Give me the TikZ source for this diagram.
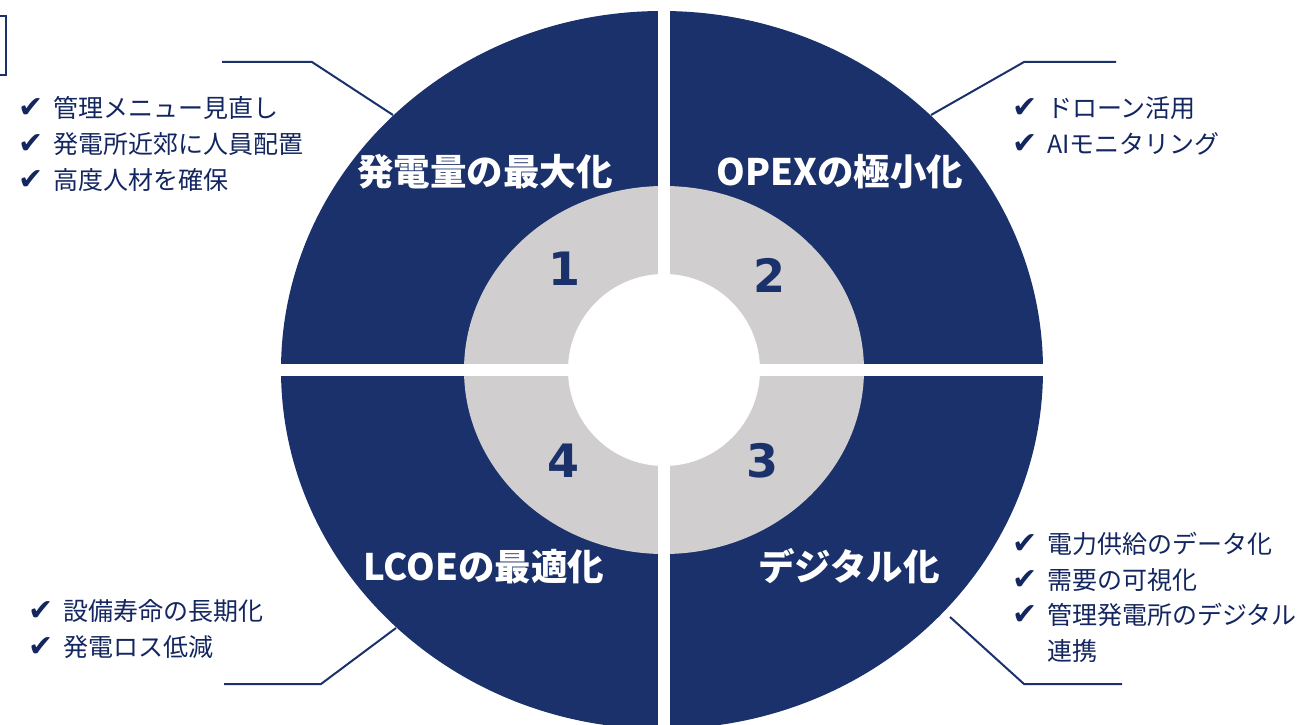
\documentclass[tikz,border=0pt]{standalone}
\usepackage{fontspec}
\setmainfont{Noto Sans CJK JP}
\newfontfamily\symfont{DejaVu Sans}
\definecolor{navy}{RGB}{27,49,107}
\definecolor{ringgray}{RGB}{208,206,207}
\definecolor{txtnavy}{RGB}{20,38,96}
\newcommand{\chk}{\makebox[35pt][l]{\symfont\fontsize{30}{30}\selectfont ✔}}
\begin{document}
\begin{tikzpicture}[x=1pt,y=-1pt,
  titlelbl/.style={text=white,font=\fontsize{36.5}{40}\selectfont\bfseries,anchor=base,inner sep=0pt},
  numlbl/.style={text=navy,font=\symfont\fontsize{46}{50}\selectfont\bfseries,anchor=base,inner sep=0pt},
  itemlbl/.style={text=txtnavy,font=\fontsize{25}{30}\selectfont,anchor=base west,inner sep=0pt},
  leader/.style={draw=navy,line width=2pt}]
\useasboundingbox (0,0) rectangle (1314,725);
\clip (0,0) rectangle (1314,725);
% rings
\coordinate (co) at (662,370);
\coordinate (ci) at (664,370);
\fill[navy] (co) ellipse [x radius=381pt, y radius=359pt];
\fill[ringgray] (ci) ellipse [x radius=200pt, y radius=184pt];
\fill[white] (ci) circle [radius=96pt];
\fill[white] (657.5,-10) rectangle (669.5,740);
\fill[white] (260,364) rectangle (1060,376);
% box fragment
\draw[navy,line width=2pt] (-20,16) rectangle (6,75);
% titles
\node[titlelbl] (t1) at (485,185.5) {発電量の最大化};
\node[titlelbl] (t2) at (840,185.5) {OPEXの極小化};
\node[titlelbl] (t4) at (484,580.5) {LCOEの最適化};
\node[titlelbl] (t3) at (849,580.5) {デジタル化};
% numbers
\node[numlbl] (n1) at (564,285) {1};
\node[numlbl] (n2) at (769,292) {2};
\node[numlbl] (n3) at (762,477) {3};
\node[numlbl] (n4) at (563,477) {4};
% leader lines
\coordinate (tlA) at (393,115); \coordinate (tlB) at (312,62); \coordinate (tlC) at (222,62);
\coordinate (trA) at (931,115); \coordinate (trB) at (1024,62); \coordinate (trC) at (1116,62);
\coordinate (blA) at (396,628); \coordinate (blB) at (321,684); \coordinate (blC) at (224,684);
\coordinate (brA) at (950,617); \coordinate (brB) at (1024,684); \coordinate (brC) at (1122,684);
\draw[leader] (tlA) -- (tlB) -- (tlC);
\draw[leader] (trA) -- (trB) -- (trC);
\draw[leader] (blA) -- (blB) -- (blC);
\draw[leader] (brA) -- (brB) -- (brC);
% lists
\node[itemlbl] (tl1) at (18,117) {\chk 管理メニュー見直し};
\node[itemlbl] (tl2) at (18,153) {\chk 発電所近郊に人員配置};
\node[itemlbl] (tl3) at (18,189) {\chk 高度人材を確保};
\node[itemlbl] (tr1) at (1012,117) {\chk ドローン活用};
\node[itemlbl] (tr2) at (1012,153) {\chk AIモニタリング};
\node[itemlbl] (bl1) at (28,620) {\chk 設備寿命の長期化};
\node[itemlbl] (bl2) at (28,656) {\chk 発電ロス低減};
\node[itemlbl] (br1) at (1012,553) {\chk 電力供給のデータ化};
\node[itemlbl] (br2) at (1012,589) {\chk 需要の可視化};
\node[itemlbl] (br3) at (1012,624.5) {\chk 管理発電所のデジタル};
\node[itemlbl] (br4) at (1047,660) {連携};
\end{tikzpicture}
\end{document}
